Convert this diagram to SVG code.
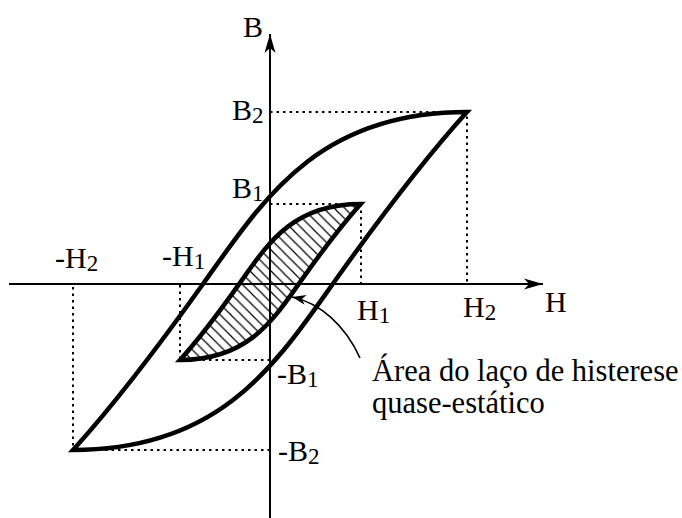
<svg xmlns="http://www.w3.org/2000/svg" width="682" height="518" viewBox="0 0 682 518">
<style>
.axis{stroke:#000;stroke-width:2;fill:none}
.dot{stroke:#000;stroke-width:2;stroke-dasharray:2.5 4;fill:none}
.loop{stroke:#000;stroke-width:4.5;fill:none;stroke-linejoin:miter}
.lbl{font-family:"Liberation Serif","Times New Roman",serif;font-size:30px;fill:#000}
.sub{font-size:23px}
.note{font-family:"Liberation Serif","Times New Roman",serif;font-size:30.5px;fill:#000}
</style>
<defs>
<pattern id="hatch" patternUnits="userSpaceOnUse" width="10.5" height="10.5">
<path d="M-1,-1 L11.5,11.5 M-1,9.5 L1,11.5 M9.5,-1 L11.5,1" stroke="#000" stroke-width="1.2"/>
</pattern>
<marker id="ah" markerUnits="userSpaceOnUse" markerWidth="24" markerHeight="14" viewBox="-20 -7 22 14" refX="0" refY="0" orient="auto">
<path d="M0,0 L-19,-5.5 L-14,0 L-19,5.5 Z" fill="#000"/>
</marker>
<marker id="ah2" markerUnits="userSpaceOnUse" markerWidth="18" markerHeight="12" viewBox="-16 -6 18 12" refX="0" refY="0" orient="auto">
<path d="M0,0 L-14,-5 L-10,0 L-14,5 Z" fill="#000"/>
</marker>
</defs>
<g id="guides">
<path class="dot" d="M270,112 H467 V284"/>
<path class="dot" d="M270,204 H361 V284"/>
<path class="dot" d="M270,360 H180 V284"/>
<path class="dot" d="M270,450 H73 V284"/>
</g>
<g id="inner-loop">
<path d="M180,360 C198.4,339.7 221.3,309.2 239.6,283.4 C267.1,244.6 291.9,204 360.7,204 C342.4,224.3 319.4,254.8 301.1,280.6 C273.6,319.4 248.8,360 180,360 Z" fill="url(#hatch)" stroke="none"/>
<path class="loop" d="M180,360 C198.4,339.7 221.3,309.2 239.6,283.4 C267.1,244.6 291.9,204 360.7,204 C342.4,224.3 319.4,254.8 301.1,280.6 C273.6,319.4 248.8,360 180,360 Z"/>
</g>
<g id="outer-loop">
<path class="loop" d="M73,450 C113,406 163,340 203,284 C263,200 317,112 467,112 C427,156 377,222 337,278 C277,362 223,450 73,450 Z"/>
</g>
<g id="axes">
<path class="axis" d="M9,284 H543" marker-end="url(#ah)"/>
<path class="axis" d="M270,518 V34" marker-end="url(#ah)"/>
</g>
<g id="connectors">
<path d="M360,358 C345,325 320,303 292,297" stroke="#000" stroke-width="1.6" fill="none" marker-end="url(#ah2)"/>
</g>
<g id="labels">
<text class="lbl" x="243" y="37">B</text>
<text class="lbl" x="545" y="312">H</text>
<text class="lbl" x="232" y="120">B<tspan class="sub" dy="3">2</tspan></text>
<text class="lbl" x="232" y="198">B<tspan class="sub" dy="3">1</tspan></text>
<text class="lbl" x="55" y="268">-H<tspan class="sub" dy="3">2</tspan></text>
<text class="lbl" x="162" y="266">-H<tspan class="sub" dy="3">1</tspan></text>
<text class="lbl" x="357" y="320">H<tspan class="sub" dy="3">1</tspan></text>
<text class="lbl" x="463" y="317">H<tspan class="sub" dy="3">2</tspan></text>
<text class="lbl" x="277" y="384">-B<tspan class="sub" dy="3">1</tspan></text>
<text class="lbl" x="278" y="461">-B<tspan class="sub" dy="3">2</tspan></text>
</g>
<g id="note">
<text class="note" x="372" y="381">Área do laço de histerese</text>
<text class="note" x="372" y="413">quase-estático</text>
</g>
</svg>
